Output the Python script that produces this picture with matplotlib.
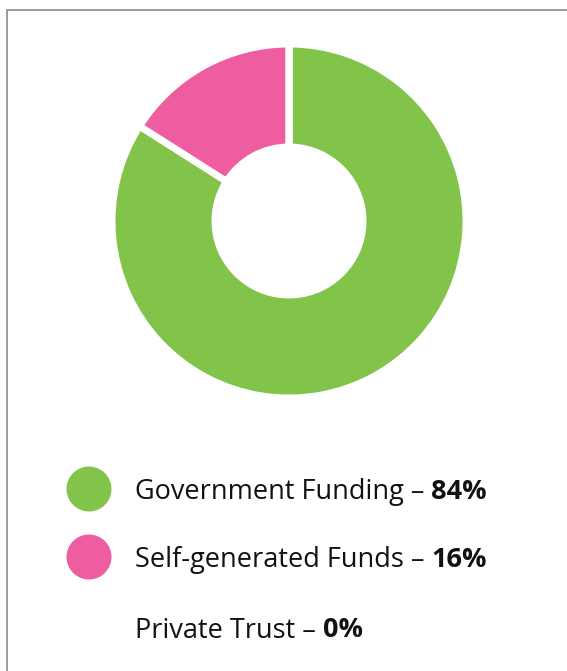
import matplotlib
matplotlib.use("Agg")
import matplotlib.pyplot as plt
from matplotlib.patches import Rectangle, Circle

# funding split (percent)
labels = ["Government Funding", "Self-generated Funds", "Private Trust"]
values = [84, 16, 0]
colors = ["#82C34A", "#EF5DA1", "#FFFFFF"]

W, H = 567, 671
fig = plt.figure(figsize=(W / 100, H / 100), dpi=100)
ax = fig.add_axes([0, 0, 1, 1])
ax.set_xlim(0, W)
ax.set_ylim(0, H)
ax.set_aspect("equal")
ax.axis("off")

# outer frame (runs off the right/bottom edge)
ax.add_patch(Rectangle((6.5, -20), W + 40, H - 9.5 + 20, fill=False,
                       edgecolor="#8c8c8c", lw=1.2))

# donut (white edge eats ~3.5px on each side)
cx, cy, r_out, r_in = 289, H - 221, 177, 74
ax.pie(values, colors=colors, startangle=90, counterclock=False,
       center=(cx, cy), radius=r_out, frame=True,
       wedgeprops=dict(width=r_out - r_in, edgecolor="white", linewidth=5))
ax.set_xlim(0, W)
ax.set_ylim(0, H)
ax.axis("off")

# legend
font = "Open Sans"
fs = 19.5
rows_y = [489, 557, 627]
fig.canvas.draw()
renderer = fig.canvas.get_renderer()
for lab, val, col, yy in zip(labels, values, colors, rows_y):
    y = H - yy
    if val > 0:
        ax.add_patch(Circle((89, y), 22.5, color=col, lw=0))
    t = ax.text(135, y, f"{lab} \u2013 ", fontsize=fs, family=font,
                va="center_baseline", ha="left", color="#111111")
    bb = t.get_window_extent(renderer)
    x_end = ax.transData.inverted().transform((bb.x1, bb.y0))[0]
    ax.text(x_end, y, f"{val}%", fontsize=fs, family=font, fontweight="bold",
            va="center_baseline", ha="left", color="#111111")

fig.savefig("out.png", dpi=100, facecolor="white")
